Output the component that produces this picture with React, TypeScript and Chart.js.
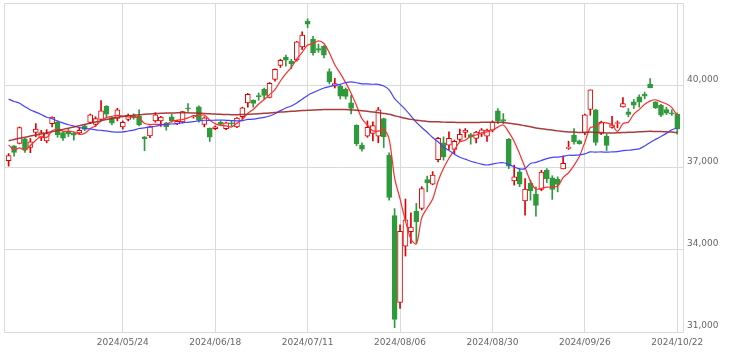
import React, { useEffect, useRef } from 'react';
import { Chart, registerables } from 'chart.js';

Chart.register(...registerables);

const dates = [
  '2024/04/22','2024/04/23','2024/04/24','2024/04/25','2024/04/26','2024/04/30',
  '2024/05/01','2024/05/02','2024/05/07','2024/05/08','2024/05/09','2024/05/10','2024/05/13','2024/05/14','2024/05/15','2024/05/16','2024/05/17','2024/05/20','2024/05/21','2024/05/22','2024/05/23','2024/05/24','2024/05/27','2024/05/28','2024/05/29','2024/05/30','2024/05/31',
  '2024/06/03','2024/06/04','2024/06/05','2024/06/06','2024/06/07','2024/06/10','2024/06/11','2024/06/12','2024/06/13','2024/06/14','2024/06/17','2024/06/18','2024/06/19','2024/06/20','2024/06/21','2024/06/24','2024/06/25','2024/06/26','2024/06/27','2024/06/28',
  '2024/07/01','2024/07/02','2024/07/03','2024/07/04','2024/07/05','2024/07/08','2024/07/09','2024/07/10','2024/07/11','2024/07/12','2024/07/16','2024/07/17','2024/07/18','2024/07/19','2024/07/22','2024/07/23','2024/07/24','2024/07/25','2024/07/26','2024/07/29','2024/07/30','2024/07/31',
  '2024/08/01','2024/08/02','2024/08/05','2024/08/06','2024/08/07','2024/08/08','2024/08/09','2024/08/13','2024/08/14','2024/08/15','2024/08/16','2024/08/19','2024/08/20','2024/08/21','2024/08/22','2024/08/23','2024/08/26','2024/08/27','2024/08/28','2024/08/29','2024/08/30',
  '2024/09/02','2024/09/03','2024/09/04','2024/09/05','2024/09/06','2024/09/09','2024/09/10','2024/09/11','2024/09/12','2024/09/13','2024/09/17','2024/09/18','2024/09/19','2024/09/20','2024/09/24','2024/09/25','2024/09/26','2024/09/27','2024/09/30',
  '2024/10/01','2024/10/02','2024/10/03','2024/10/04','2024/10/07','2024/10/08','2024/10/09','2024/10/10','2024/10/11','2024/10/15','2024/10/16','2024/10/17','2024/10/18','2024/10/21','2024/10/22',
];

const opens = [
  37250,37790,37880,38050,37730,38280,38080,37970,38600,38660,
  38270,38330,38260,38260,38520,38640,38570,38750,39230,38820,
  38790,38480,38750,38890,38870,38120,38150,38700,38700,38630,
  38850,38600,38660,39150,38850,39210,38570,38434,38420,38650,
  38420,38630,38480,38850,39360,39454,39600,39850,39560,40210,
  40720,41030,40880,40920,41400,42344,41680,41340,41420,40500,
  39964,39960,39850,39360,38540,37814,38140,38240,38140,38787,
  37450,35250,32077,34134,34655,35408,35510,36560,36390,37290,
  37900,37815,37660,38020,38280,38204,38060,38215,38142,38360,
  39064,38750,38030,36514,36840,35785,36419,36030,36200,36900,
  36620,36565,36952,37700,38180,37971,38263,39114,39100,38240,
  38140,38460,38604,39210,39028,39393,39575,39672,40037,39393,
  39271,39114,38990,38943,
];

const highs = [
  37510,37800,38480,38070,38060,38600,38360,38380,38850,38700,
  38300,38390,38280,38460,38560,38950,38850,39440,39260,38850,
  39160,38700,38950,38960,39100,38130,38520,39000,38870,38650,
  38950,38720,39050,39330,38900,39250,38850,38440,38520,38720,
  38660,38720,38820,39200,39700,39470,39720,39900,40100,40600,
  40950,41100,40950,41600,41950,42426,41780,41500,41450,40600,
  40250,40000,39900,39640,38560,37900,38700,38664,39190,38800,
  37534,35500,34911,35850,35347,35690,36300,36685,36850,38100,
  38118,38300,38000,38400,38420,38250,38320,38420,38400,38700,
  39150,38968,38060,37085,36950,36600,36540,36295,36900,36960,
  36700,36660,37413,37960,38423,38000,38950,39830,39120,38690,
  38215,38870,38700,39553,39150,39480,39650,39750,40245,39400,
  39300,39200,39100,38992,
];

const lows = [
  37050,37410,37860,37550,37540,38120,37980,37900,38480,38100,
  37990,38130,38000,38220,38340,38600,38500,38700,38850,38560,
  38700,38400,38700,38760,38520,37610,38090,38650,38500,38360,
  38650,38560,38620,39050,38800,38650,38480,37950,38380,38520,
  38380,38500,38450,38780,39200,39200,39450,39500,39540,40150,
  40650,40700,40600,40880,41300,42100,41100,41200,41000,40050,
  39900,39500,39500,38950,37800,37600,38100,37970,37900,37730,
  35810,31156,31864,33770,34232,34243,35450,36112,36370,37200,
  37269,37650,37500,37950,38100,37850,37900,38130,37950,38300,
  38600,38604,36960,36357,36300,35264,35810,35227,36150,36450,
  35836,36112,36950,37658,37850,37850,38200,38907,37814,38200,
  37620,38430,38450,39200,38850,39150,39200,39500,39900,39150,
  38850,38930,38900,38215,
];

const closes = [
  37438,37552,38460,37628,37934,38405,38274,38236,38835,38202,
  38073,38229,38179,38356,38385,38920,38787,39069,38946,38617,
  39103,38646,38900,38855,38556,38054,38487,38923,38837,38490,
  38703,38683,39038,39134,38876,38720,38814,38102,38482,38570,
  38633,38596,38804,39173,39667,39341,39583,39631,40074,40580,
  40913,40912,40780,41580,41831,42224,41190,41275,41097,40126,
  40063,39599,39594,39154,37869,37667,38468,38525,39101,38126,
  35909,31458,34675,35089,34831,35025,36232,36442,36726,38062,
  37388,38062,37951,38211,38364,38110,38288,38371,38362,38647,
  38700,38686,37047,36657,36391,36215,36159,35619,36833,36581,
  36203,36380,37155,37723,37940,37870,38925,39829,37919,38651,
  37808,38552,38635,39332,38937,39277,39380,39605,39910,39180,
  38911,38981,38954,38411,
];

const ma5 = [
  37827,37643,37719,37629,37802,37996,38140,38095,38337,38390,
  38324,38315,38304,38208,38244,38414,38525,38703,38821,38868,
  38904,38876,38842,38824,38812,38602,38570,38575,38571,38558,
  38688,38727,38750,38810,38887,38890,38916,38729,38599,38538,
  38520,38477,38617,38755,38975,39116,39314,39479,39659,39842,
  40156,40422,40652,40953,41203,41465,41521,41620,41523,41182,
  40750,40432,40096,39707,39256,38777,38550,38337,38326,38377,
  38026,36624,35854,35051,34392,34216,35170,35524,35851,36497,
  36970,37336,37638,37935,37995,38140,38185,38269,38299,38356,
  38474,38553,38288,37947,37496,36999,36494,36208,36243,36281,
  36279,36323,36630,36808,37080,37414,37923,38457,38497,38639,
  38626,38552,38313,38596,38653,38947,39112,39306,39422,39470,
  39397,39317,39187,38887,
];

const ma25 = [
  39495,39407,39345,39218,39100,39020,38935,38834,38781,38694,
  38625,38561,38510,38453,38429,38412,38373,38353,38333,38297,
  38292,38299,38332,38363,38423,38448,38485,38504,38552,38575,
  38586,38603,38635,38647,38674,38700,38723,38720,38725,38732,
  38721,38713,38703,38712,38754,38763,38801,38830,38879,38960,
  39074,39171,39245,39355,39489,39630,39730,39819,39898,39948,
  40002,40033,40093,40120,40092,40053,40048,40037,40034,39972,
  39835,39510,39312,39112,38882,38647,38460,38286,38092,37941,
  37748,37623,37490,37374,37304,37226,37173,37124,37092,37124,
  37165,37174,37115,37017,36947,36960,37148,37185,37255,37325,
  37372,37378,37407,37447,37442,37461,37496,37571,37559,37570,
  37558,37569,37579,37618,37630,37653,37681,37783,37913,38025,
  38133,38245,38379,38442,
];

const ma75 = [
  37976,38020,38065,38105,38145,38185,38225,38265,38305,38345,
  38390,38435,38480,38525,38570,38615,38660,38705,38750,38790,
  38830,38860,38885,38905,38925,38940,38955,38968,38978,38985,
  38990,38994,38995,38993,38988,38980,38970,38960,38950,38940,
  38932,38928,38928,38932,38940,38950,38962,38976,38990,39005,
  39020,39035,39050,39062,39075,39085,39095,39105,39112,39118,
  39120,39118,39112,39100,39085,39068,39048,39025,39000,38972,
  38940,38890,38840,38795,38755,38723,38705,38678,38666,38668,
  38655,38652,38648,38640,38642,38642,38643,38646,38646,38649,
  38646,38645,38618,38587,38558,38519,38486,38442,38415,38389,
  38364,38336,38313,38298,38291,38279,38283,38293,38277,38274,
  38262,38258,38265,38277,38282,38290,38301,38311,38321,38315,
  38309,38301,38292,38270,
];

const xTickIndex = [21, 38, 55, 72, 89, 106, 123];
const yTicks = [31000, 34000, 37000, 40000, 43000];

const X_MIN = -0.85;
const X_MAX = 124.05;
const UP = '#e00000';
const DOWN = '#2f9a3c';
const GRID = '#dadada';
const FONT = { family: 'DejaVu Sans', size: 9 };

function fmt(v: number) {
  return String(v).replace(/\B(?=(\d{3})+(?!\d))/g, ',');
}

export default function App() {
  const ref = useRef<HTMLCanvasElement>(null);

  useEffect(() => {
    const up = closes.map((c, i) => c >= opens[i]);
    const line = (arr: number[]) => arr.map((v, i) => ({ x: i, y: v }));

    const chart = new Chart(ref.current as HTMLCanvasElement, {
      type: 'bar',
      data: {
        datasets: [
          {
            type: 'line',
            data: line(ma75),
            borderColor: 'rgba(160,40,40,0.9)',
            borderWidth: 1.5,
            pointRadius: 0,
            tension: 0.3,
            order: 0,
          } as any,
          {
            type: 'line',
            data: line(ma25),
            borderColor: '#4343ff',
            borderWidth: 1.2,
            pointRadius: 0,
            tension: 0.3,
            order: 0,
          } as any,
          {
            type: 'line',
            data: line(ma5),
            borderColor: '#ff2d2d',
            borderWidth: 1.2,
            pointRadius: 0,
            tension: 0.3,
            order: 0,
          } as any,
          {
            type: 'bar',
            data: opens.map((o, i) => ({ x: i, y: [o, closes[i]] })),
            backgroundColor: up.map((u) => (u ? '#ffffff' : DOWN)),
            borderColor: up.map((u) => (u ? UP : DOWN)),
            borderWidth: 1,
            borderSkipped: false,
            barThickness: 5,
            minBarLength: 1,
            grouped: false,
            order: 1,
          } as any,
          {
            type: 'bar',
            data: lows.map((l, i) => ({ x: i, y: [l, highs[i]] })),
            backgroundColor: up.map((u) => (u ? UP : DOWN)),
            borderWidth: 0,
            barThickness: 1,
            grouped: false,
            order: 2,
          } as any,
        ],
      },
      options: {
        responsive: false,
        animation: false,
        devicePixelRatio: 1,
        layout: { padding: { left: 4, top: 3, right: 0, bottom: 0 } },
        plugins: {
          legend: { display: false },
          tooltip: { enabled: false },
        },
        scales: {
          x: {
            type: 'linear',
            min: X_MIN,
            max: X_MAX,
            offset: false,
            afterBuildTicks: (s: any) => {
              s.ticks = [X_MIN, ...xTickIndex, X_MAX].map((v) => ({ value: v }));
            },
            afterFit: (s: any) => {
              s.height = 20;
              s.paddingLeft = 0;
              s.paddingRight = 0;
            },
            grid: { color: GRID, drawTicks: false, offset: false },
            border: { display: true, color: GRID },
            ticks: {
              autoSkip: false,
              maxRotation: 0,
              padding: 5,
              color: '#666',
              font: FONT,
              callback: (v: any) =>
                Number.isInteger(v) && dates[v] ? dates[v] : '',
            },
          },
          y: {
            position: 'right',
            min: 31000,
            max: 43000,
            afterBuildTicks: (s: any) => {
              s.ticks = yTicks.map((v) => ({ value: v }));
            },
            afterFit: (s: any) => {
              s.width = 46;
              s.paddingTop = 0;
              s.paddingBottom = 0;
            },
            grid: { color: GRID, drawTicks: false },
            border: { display: true, color: GRID },
            ticks: {
              padding: 4,
              labelOffset: -6,
              color: '#666',
              font: FONT,
              callback: (v: any) => (v === 43000 ? '' : fmt(v)),
            },
          },
        },
      } as any,
    });
    return () => chart.destroy();
  }, []);

  return (
    <div
      style={{
        position: 'absolute',
        left: 0,
        top: 0,
        width: 729,
        height: 352,
        background: '#fff',
      }}
    >
      <canvas ref={ref} width={729} height={352} />
    </div>
  );
}
